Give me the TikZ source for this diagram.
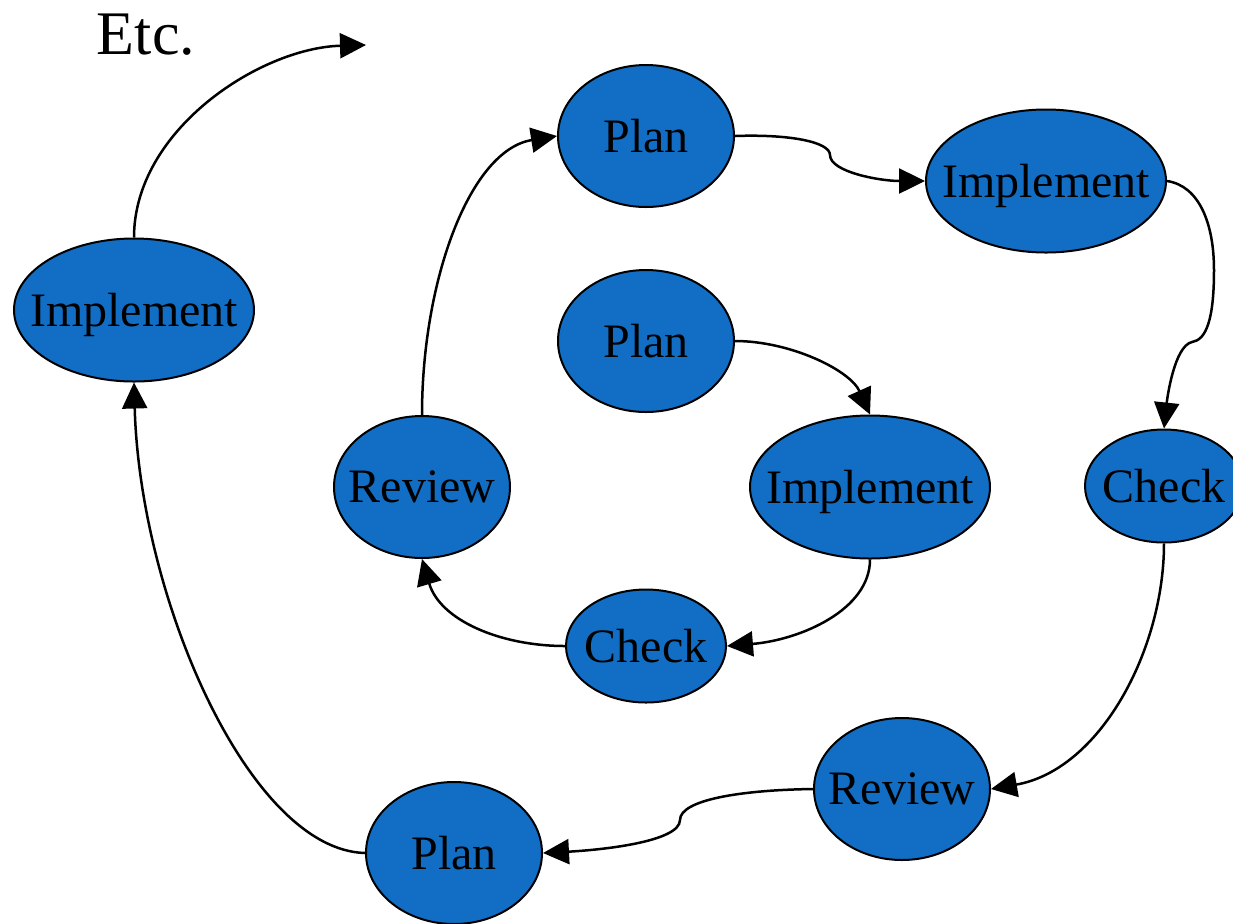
\documentclass[tikz,border=0pt]{standalone}
\usepackage{fontspec}
\setmainfont{Liberation Serif}
\usetikzlibrary{shapes.geometric,arrows.meta}
\definecolor{phaseblue}{RGB}{17,110,196}
\newcommand{\lbl}[1]{\makebox[0pt]{#1}}
\begin{document}
\begin{tikzpicture}[>={Triangle[length=13pt,width=12.5pt]},x=0.5pt,y=-0.5pt,
  phase/.style={ellipse,draw=black,line width=1pt,fill=phaseblue,inner sep=0pt,
    text depth=0pt,font=\fontsize{24}{28}\selectfont},
  wide/.style={phase,minimum width=120pt,minimum height=71.5pt},
  mid/.style={phase,minimum width=88pt,minimum height=71pt},
  small/.style={phase,minimum width=80pt,minimum height=56.5pt},
  link/.style={->,line width=1.25pt}]
\useasboundingbox (0,0) rectangle (1233,923);
\node (etc) at (146,35){\fontsize{31}{36}\selectfont Etc.};
\node (p1) at (646,136)[mid]{\lbl{Plan}};
\node (i1) at (1046,181)[wide]{\lbl{Implement}};
\node (p0) at (646,341)[mid]{\lbl{Plan}};
\node (i0) at (870,487)[wide]{\lbl{Implement}};
\node (c1) at (1164,486)[small,minimum width=79pt]{\lbl{Check}};
\node (r0) at (422,487)[mid]{\lbl{Review}};
\node (c0) at (646,646)[small]{\lbl{Check}};
\node (i2) at (134,310)[wide]{\lbl{Implement}};
\node (r1) at (902,789)[mid]{\lbl{Review}};
\node (p2) at (454,853)[mid]{\lbl{Plan}};
\coordinate (next) at (366,45);

% inner loop
\draw[link] (p0.east) .. controls (790,341) and (850,370) .. (i0.north);
\draw[link] (i0.south) .. controls (870,610) and (800,640) .. (c0.east);
\draw[link] (c0.west) .. controls (500,646) and (440,620) .. (r0.south);
\draw[link] (r0.north) .. controls (422,280) and (470,150) .. (p1.west);
% outer loop
\draw[link] (p1.east) .. controls (790,134) and (830,142) .. (830,155)
  .. controls (830,172) and (880,181) .. (i1.west);
\draw[link] (i1.east) .. controls (1200,186) and (1214,225) .. (1214,270)
  .. controls (1214,320) and (1206,340) .. (1192,342)
  .. controls (1174,346) and (1167,400) .. (c1.north);
\draw[link] (c1.south) .. controls (1164,650) and (1100,770) .. (r1.east);
\draw[link] (r1.west) .. controls (740,790) and (680,800) .. (680,820)
  .. controls (680,842) and (600,850) .. (p2.east);
\draw[link] (p2.west) .. controls (250,850) and (140,600) .. (i2.south);
\draw[link] (i2.north) .. controls (134,130) and (260,48) .. (next);
\end{tikzpicture}
\end{document}
